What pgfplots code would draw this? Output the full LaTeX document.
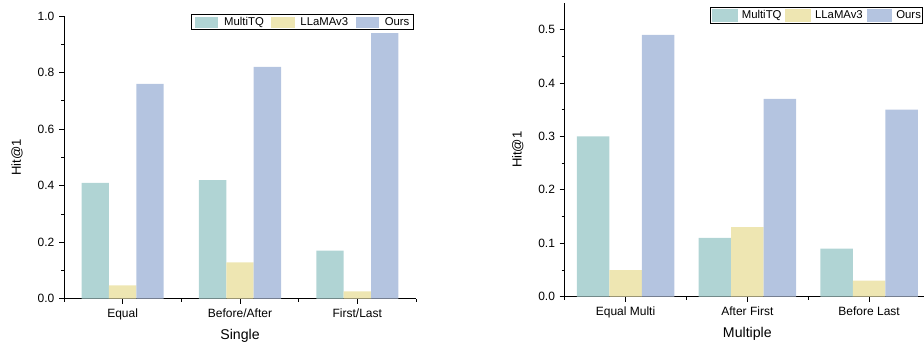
\documentclass[border=0pt]{standalone}
\usepackage{fontspec}
\setmainfont{Liberation Sans}
\usepackage{pgfplots}
\pgfplotsset{compat=1.18}
\definecolor{cA}{RGB}{176,212,212}
\definecolor{cB}{RGB}{238,230,178}
\definecolor{cC}{RGB}{180,196,224}
\pgfplotsset{
 mybar/.style={
  scale only axis,
  ybar=0pt,
  axis x line*=bottom, axis y line*=left,
  axis line style={-, line width=0.75pt},
  tick style={line width=0.6pt, black},
  tick align=outside,
  major tick length=3.75pt, minor tick length=2.25pt,
  xmin=-0.5, xmax=2.5, ymin=0,
  xtick={0,1,2}, minor xtick={-0.5,0.5,1.5,2.5},
  minor y tick num=1,
  tick label style={font=\fontsize{9}{10}\selectfont},
  /pgf/number format/assume math mode=true,
  yticklabel style={/pgf/number format/.cd, fixed, fixed zerofill, precision=1},
  label style={font=\fontsize{10.6}{12}\selectfont},
  ylabel style={font=\fontsize{9.8}{11}\selectfont},
  legend columns=3,
  legend cell align=left,
 }
}
\begin{document}
\begin{tikzpicture}
\begin{axis}[mybar,
  at={(48pt,36.2pt)}, anchor=south west, width=264pt, height=212pt,
  ymax=1.0, ytick={0,0.2,0.4,0.6,0.8,1.0},
  bar width=0.2333,
  xticklabels={Equal, Before/After, First/Last},
  xlabel={Single}, ylabel={Hit@1},
  xlabel style={at={(axis description cs:0.5,-0.132)}, anchor=center},
  ylabel style={at={(axis description cs:-0.1335,0.5)}, anchor=center},
  legend image code/.code={\fill[#1] (0pt,-4.25pt) rectangle (17.5pt,4.25pt);},
  legend style={at={(axis description cs:0.994,1.007)}, anchor=north east,
    draw=black, line width=0.75pt, inner xsep=3pt, inner ysep=1.5pt,
    font=\fontsize{8.5}{9}\selectfont, nodes={inner sep=0pt},
    /tikz/every odd column/.append style={column sep=4.3pt},
    /tikz/every even column/.append style={column sep=5.7pt}},
]
\addplot[fill=cA, draw=none] coordinates {(0,0.41) (1,0.42) (2,0.17)};
\addplot[fill=cB, draw=none] coordinates {(0,0.047) (1,0.129) (2,0.026)};
\addplot[fill=cC, draw=none] coordinates {(0,0.76) (1,0.82) (2,0.94)};
\legend{MultiTQ, LLaMAv3, Ours}
\end{axis}
\begin{axis}[mybar,
  at={(423.5pt,37.7pt)}, anchor=south west, width=274pt, height=220.5pt,
  ymax=0.55, ytick={0,0.1,0.2,0.3,0.4,0.5},
  bar width=0.267,
  xticklabels={Equal Multi, After First, Before Last},
  xlabel={Multiple}, ylabel={Hit@1},
  xlabel style={at={(axis description cs:0.5,-0.127)}, anchor=center},
  ylabel style={at={(axis description cs:-0.128,0.5)}, anchor=center},
  legend image code/.code={\fill[#1] (0pt,-4.6pt) rectangle (19pt,4.6pt);},
  legend style={at={(axis description cs:0.982,0.986)}, anchor=north east,
    draw=black, line width=0.75pt, inner xsep=1.5pt, inner ysep=1.5pt,
    font=\fontsize{8.5}{9}\selectfont, nodes={inner sep=0pt},
    /tikz/every odd column/.append style={column sep=3.2pt},
    /tikz/every even column/.append style={column sep=3pt}},
]
\addplot[fill=cA, draw=none] coordinates {(0,0.30) (1,0.11) (2,0.09)};
\addplot[fill=cB, draw=none] coordinates {(0,0.05) (1,0.13) (2,0.03)};
\addplot[fill=cC, draw=none] coordinates {(0,0.49) (1,0.37) (2,0.35)};
\legend{MultiTQ, LLaMAv3, Ours}
\end{axis}
\pgfresetboundingbox
\useasboundingbox (0,0) rectangle (693pt,260.25pt);
\end{tikzpicture}
\end{document}
